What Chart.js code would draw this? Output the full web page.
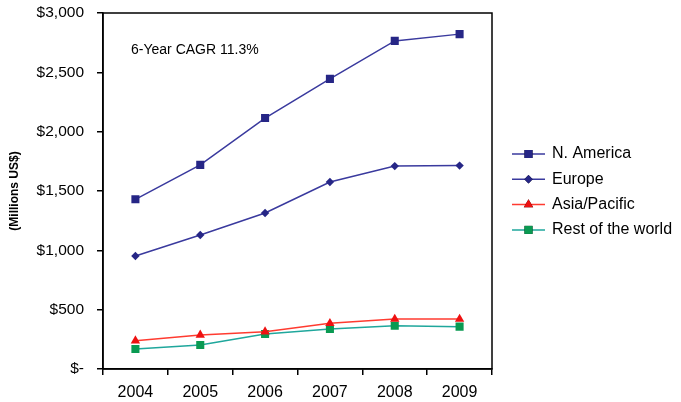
<!DOCTYPE html>
<html>
<head>
<meta charset="utf-8">
<script src="https://cdn.jsdelivr.net/npm/chart.js@4/dist/chart.umd.min.js"></script>
<style>
  html, body { margin: 0; padding: 0; background: #ffffff; }
  #wrap { width: 681px; height: 402px; position: relative; }
</style>
</head>
<body>
<div id="wrap"><canvas id="c" width="681" height="402"></canvas></div>
<script>
// Market revenue by region, millions of US$
const years = ['2004', '2005', '2006', '2007', '2008', '2009'];
const northAmerica = [1430, 1720, 2115, 2445, 2765, 2822];
const europe = [952, 1129, 1315, 1576, 1710, 1714];
const asiaPacific = [238, 287, 314, 385, 421, 421];
const restOfWorld = [169, 202, 295, 337, 365, 357];
const yTicks = [0, 500, 1000, 1500, 2000, 2500, 3000];
const note = '6-Year CAGR 11.3%';
const yTitle = '(Millions US$)';

const FONT = '"Liberation Sans", Arial, sans-serif';

const series = [
  { label: 'N. America', data: northAmerica, line: '#3a3a9e', mark: '#262686', style: 'rect', r: 5.7 },
  { label: 'Europe', data: europe, line: '#3a3a9e', mark: '#262686', style: 'rectRot', r: 4.2 },
  { label: 'Asia/Pacific', data: asiaPacific, line: '#ff3b30', mark: '#ee1111', style: 'triangle', r: 5.4 },
  { label: 'Rest of the world', data: restOfWorld, line: '#1fa79c', mark: '#0a9a52', style: 'rect', r: 5.7 }
];

function money(v) {
  if (v === 0) return '$-';
  return '$' + v.toLocaleString('en-US');
}

// Plot frame, note text and a line-plus-marker legend
const decorations = {
  id: 'decorations',
  afterDraw(chart) {
    const { ctx, chartArea: a } = chart;
    ctx.save();
    ctx.strokeStyle = '#000';
    ctx.lineWidth = 1.5;
    ctx.strokeRect(a.left, a.top, a.right - a.left, a.bottom - a.top);

    ctx.fillStyle = '#000';
    ctx.font = '14px ' + FONT;
    ctx.textBaseline = 'middle';
    ctx.textAlign = 'left';
    ctx.fillText(note, a.left + 28, 50);

    const x0 = 512, x1 = 545, tx = 552, y0 = 154, dy = 25.3;
    chart.data.datasets.forEach((ds, i) => {
      const y = y0 + i * dy;
      ctx.strokeStyle = ds.borderColor;
      ctx.lineWidth = 1.5;
      ctx.beginPath();
      ctx.moveTo(x0, y);
      ctx.lineTo(x1, y);
      ctx.stroke();
      Chart.helpers.drawPoint(ctx, {
        pointStyle: ds.pointStyle,
        radius: ds.pointRadius,
        rotation: 0,
        borderWidth: 0
      }, (x0 + x1) / 2, y);
      ctx.fillStyle = ds.pointBackgroundColor;
      ctx.fill();
      ctx.fillStyle = '#000';
      ctx.font = '16px ' + FONT;
      ctx.fillText(ds.label, tx, y);
    });
    ctx.restore();
  }
};

new Chart(document.getElementById('c'), {
  type: 'line',
  data: {
    labels: years,
    datasets: series.map(s => ({
      label: s.label,
      data: s.data,
      borderColor: s.line,
      borderWidth: 1.5,
      pointStyle: s.style,
      pointRadius: s.r,
      pointBackgroundColor: s.mark,
      pointBorderColor: s.mark,
      pointBorderWidth: 0,
      tension: 0,
      fill: false
    }))
  },
  options: {
    responsive: false,
    animation: false,
    layout: { padding: { top: 13, right: 189, bottom: 0, left: 0 } },
    plugins: {
      legend: { display: false },
      tooltip: { enabled: false }
    },
    scales: {
      x: {
        offset: true,
        grid: { display: true, offset: true, drawOnChartArea: false, drawTicks: true, tickLength: 6, color: '#000', lineWidth: 1.5 },
        border: { display: true, color: '#000', width: 1.5 },
        ticks: { color: '#000', font: { family: FONT, size: 16 }, padding: 8, maxRotation: 0 },
        afterFit(scale) { scale.height = 33; scale.paddingLeft = 0; scale.paddingRight = 0; }
      },
      y: {
        min: 0,
        max: 3000,
        afterBuildTicks(scale) { scale.ticks = yTicks.map(v => ({ value: v })); },
        grid: { display: true, drawOnChartArea: false, drawTicks: true, tickLength: 6, color: '#000', lineWidth: 1.5 },
        border: { display: true, color: '#000', width: 1.5 },
        ticks: { color: '#000', font: { family: FONT, size: 15.5 }, padding: 13, callback: v => money(v) },
        title: { display: true, text: yTitle, color: '#000', font: { family: FONT, size: 12, weight: 'bold' }, padding: { top: 7, bottom: 0 } },
        afterFit(scale) { scale.width = 103; scale.paddingTop = 0; scale.paddingBottom = 0; }
      }
    }
  },
  plugins: [decorations]
});
</script>
</body>
</html>
